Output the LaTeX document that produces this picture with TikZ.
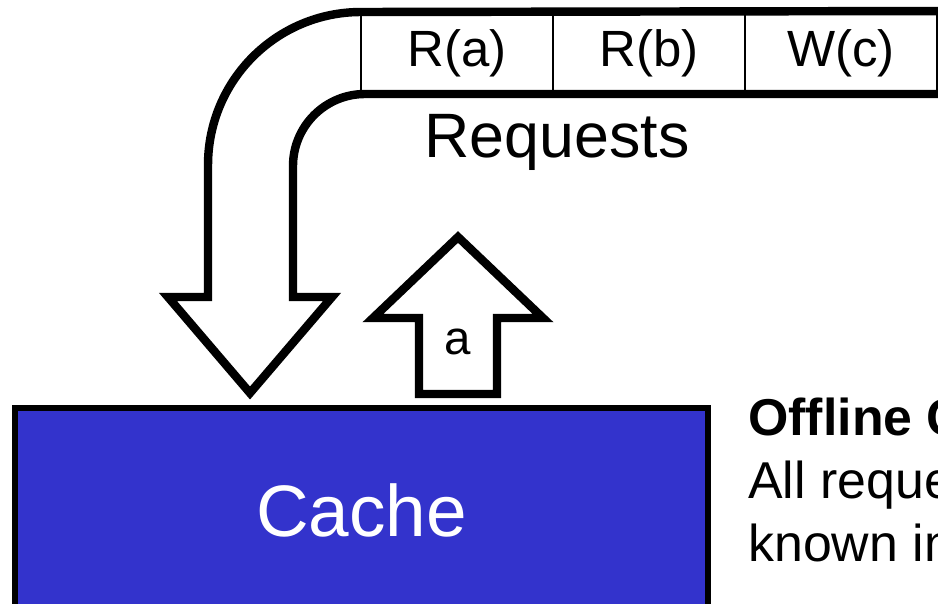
\documentclass[tikz,border=0pt]{standalone}
\usepackage{fontspec}
\setmainfont{Liberation Sans}
\usetikzlibrary{positioning}
\definecolor{cacheblue}{RGB}{51,51,204}

\begin{document}
\begin{tikzpicture}[
        x=0.02cm, y=-0.02cm,
        cell/.style={rectangle, draw=black, line width=1.5pt, minimum width=3.84cm, minimum height=1.66cm, inner sep=0pt, outer sep=0pt, font=\fontsize{29}{34}\selectfont},
        fatarrow/.style={draw=black, line width=4.8pt, line join=miter},
        cachebox/.style={rectangle, draw=black, line width=3pt, fill=cacheblue, text=white, minimum width=13.86cm, minimum height=4.08cm, font=\fontsize{41.5}{48}\selectfont},
        note/.style={anchor=north west, align=left, inner sep=0pt, font=\fontsize{29.5}{35.7}\selectfont}
    ]
        \useasboundingbox (0,0) rectangle (938,604);
        \clip (0,0) rectangle (938,604);

        % Request queue
        \node[cell] (ra) at (457,53.5) {R(a)};
        \node[cell, right=0pt of ra] (rb) {R(b)};
        \node[cell, right=0pt of rb] (wc) {W(c)};
        \node[font=\fontsize{35.7}{40}\selectfont] (requests) at (557,142) {Requests};

        % Big curved arrow down to the cache
        \draw[fatarrow] (960,11) -- (ra.north west) arc[start angle=270, end angle=180, radius=153]
            -- (208,297) -- (168,297) -- (250,393) -- (332,297) -- (293,297) -- (293,166)
            arc[start angle=180, end angle=270, radius=72] -- (960,94);

        % Cache
        \node[cachebox] (cache) at (361.5,510) {Cache};

        % Eviction arrow
        \draw[fatarrow] (419,394) -- (419,318) -- (373,318) -- (458,237) -- (543,318) -- (497,318) -- (497,394) -- cycle;
        \node[font=\fontsize{27}{30}\selectfont] (evict) at (458,342) {a};

        % Side note
        \node[note] (offline) at (748,398) {\textbf{Offline Caching}\\All requests are\\known in advance};
\end{tikzpicture}
\end{document}
